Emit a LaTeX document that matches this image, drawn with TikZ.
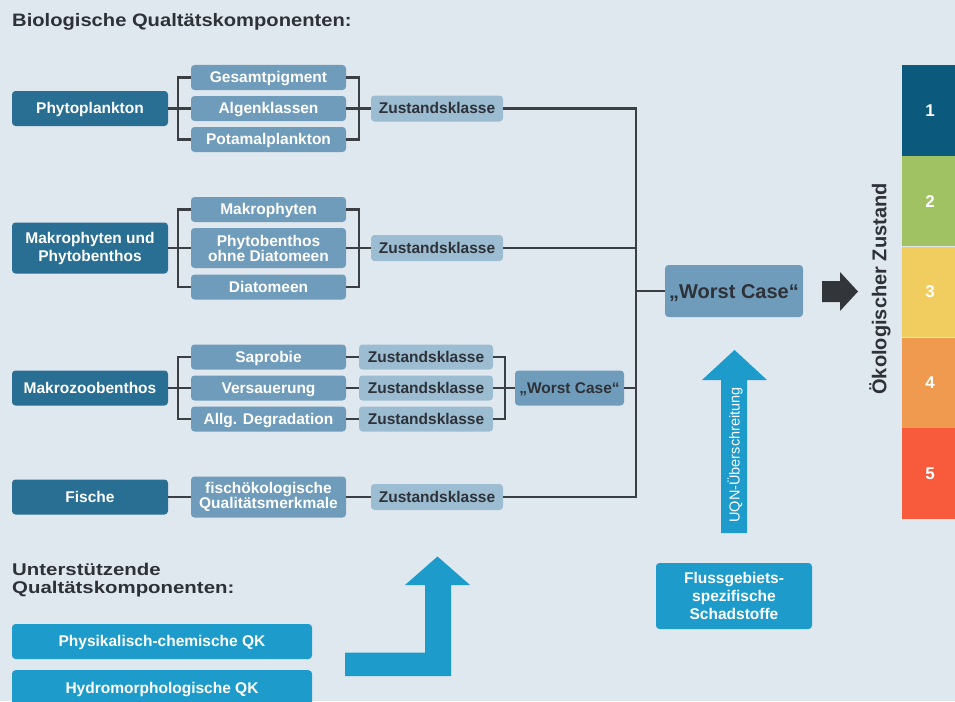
\documentclass[tikz,border=0pt]{standalone}
\usepackage{fontspec}
\setmainfont{Liberation Sans}
\newfontfamily\titleA{Liberation Sans}[FakeStretch=1.12]
\newfontfamily\titleB{Liberation Sans}[FakeStretch=1.2]
\definecolor{bg}{HTML}{E0E8EF}
\definecolor{dark}{HTML}{286F93}
\definecolor{med}{HTML}{6F9CBB}
\definecolor{light}{HTML}{9BBCD1}
\definecolor{cyanbox}{HTML}{1D9CCC}
\definecolor{linec}{HTML}{3B3F44}
\definecolor{txt}{HTML}{2E3238}
\definecolor{sA}{HTML}{0B5A7E}
\definecolor{sB}{HTML}{A0C262}
\definecolor{sC}{HTML}{F0CD5E}
\definecolor{sD}{HTML}{EF9A4F}
\definecolor{sE}{HTML}{F85A3C}
\begin{document}
\begin{tikzpicture}[x=1pt,y=-1pt,
  box/.style={rounded corners=3.5pt, inner sep=0pt, align=center, font=\fontsize{15.5}{15}\selectfont\bfseries},
  one/.style={text height=14.2pt, text depth=3.3pt},
  mainbox/.style={box, fill=dark, text=white, minimum width=156pt, minimum height=35pt, font=\fontsize{15.5}{18}\selectfont\bfseries},
  subbox/.style={box, fill=med, text=white, minimum width=155pt, minimum height=25pt},
  zkbox/.style={box, one, fill=light, text=txt, minimum width=132pt, minimum height=26pt},
  zksmall/.style={box, one, fill=light, text=txt, minimum width=134pt, minimum height=25pt},
  cbox/.style={box, fill=cyanbox, text=white, font=\fontsize{15.5}{18}\selectfont\bfseries},
  conn/.style={draw=linec, line width=2.1pt},
  scalecell/.style={inner sep=0pt, minimum width=53pt, minimum height=90.4pt, text=white, font=\fontsize{17}{17}\selectfont\bfseries}
]
\useasboundingbox (0,0) rectangle (955,701);
\fill[bg] (0,0) rectangle (955,701);

% titles
\node[anchor=base west, inner sep=0pt, text=txt, font=\titleA\fontsize{18}{18}\selectfont\bfseries] (t1) at (12,27) {Biologische Qualtätskomponenten:};
\node[anchor=north west, inner sep=0pt, text=txt, align=left, font=\titleB\fontsize{17}{18}\selectfont\bfseries] (t2) at (12,563) {Unterstützende\\Qualtätskomponenten:};

% group 1
\node[mainbox, one] (phyto) at (90,108.5) {Phytoplankton};
\node[subbox, one] (gesamt) at (268.5,77.5) {Gesamtpigment};
\node[subbox, one] (algen) at (268.5,108.5) {Algenklassen};
\node[subbox, one] (potamal) at (268.5,139.5) {Potamalplankton};
\node[zkbox] (zk1) at (437,108.5) {Zustandsklasse};

% group 2
\node[mainbox, minimum height=51pt] (makro) at (90,248) {Makrophyten und\\Phytobenthos};
\node[subbox, one] (mphyt) at (268.5,209.5) {Makrophyten};
\node[subbox, minimum height=40pt] (phytob) at (268.5,248) {Phytobenthos\\ohne Diatomeen};
\node[subbox, one] (diatom) at (268.5,287) {Diatomeen};
\node[zkbox] (zk2) at (437,248) {Zustandsklasse};

% group 3
\node[mainbox, one] (mzb) at (90,388) {Makrozoobenthos};
\node[subbox, one] (sapro) at (268.5,357) {Saprobie};
\node[subbox, one] (versau) at (268.5,388) {Versauerung};
\node[subbox, one] (degr) at (268.5,419) {Allg. Degradation};
\node[zksmall] (zka) at (426,357) {Zustandsklasse};
\node[zksmall] (zkb) at (426,388) {Zustandsklasse};
\node[zksmall] (zkc) at (426,419) {Zustandsklasse};
\node[box, one, fill=med, text=txt, minimum width=109pt, minimum height=35pt] (wcs) at (569.5,388) {„Worst Case“};

% group 4
\node[mainbox, one] (fische) at (90,497) {Fische};
\node[subbox, minimum height=41pt] (fqm) at (268.5,497) {fischökologische\\Qualitätsmerkmale};
\node[zkbox] (zk4) at (437,497) {Zustandsklasse};

% big worst case
\node[box, fill=med, text=txt, minimum width=138pt, minimum height=52pt, text height=18pt, text depth=4pt, font=\fontsize{20}{20}\selectfont\bfseries] (wc) at (734,291) {„Worst Case“};

% connectors group 1
\draw[conn] (phyto.east) -- (algen.west);
\draw[conn] (gesamt.west) -- ++(-13,0) |- (potamal.west);
\draw[conn] (gesamt.east) -- ++(13,0) |- (potamal.east);
\draw[conn] (algen.east) -- (zk1.west);
% group 2
\draw[conn] (makro.east) -- (phytob.west);
\draw[conn] (mphyt.west) -- ++(-13,0) |- (diatom.west);
\draw[conn] (mphyt.east) -- ++(13,0) |- (diatom.east);
\draw[conn] (phytob.east) -- (zk2.west);
% group 3
\draw[conn] (mzb.east) -- (versau.west);
\draw[conn] (sapro.west) -- ++(-13,0) |- (degr.west);
\draw[conn] (sapro.east) -- (zka.west);
\draw[conn] (versau.east) -- (zkb.west);
\draw[conn] (degr.east) -- (zkc.west);
\draw[conn] (zka.east) -- ++(12,0) |- (zkc.east);
\draw[conn] (zkb.east) -- (wcs.west);
% group 4
\draw[conn] (fische.east) -- (fqm.west);
\draw[conn] (fqm.east) -- (zk4.west);
% bus
\coordinate (bt) at (636,108.5);
\coordinate (bb) at (636,497);
\draw[conn] (zk1.east) -- (bt) -- (bb) -- (zk4.east);
\draw[conn] (zk2.east) -- (zk2.east -| bt);
\draw[conn] (wcs.east) -- (wcs.east -| bt);
\draw[conn] (wc.west) -- (wc.west -| bt);

% black arrow
\fill[linec!85!black] (822,281) -- (840,281) -- (840,272) -- (858,291.5) -- (840,311) -- (840,302) -- (822,302) -- cycle;

% vertical label
\node[rotate=90, inner sep=0pt, text=txt, font=\fontsize{20}{20}\selectfont\bfseries] (oz) at (880,289) {Ökologischer Zustand};

% scale
\node[scalecell, fill=sA, anchor=north west] (s1) at (902,65) {};
\node[scalecell, fill=sB, anchor=north west] (s2) at (s1.south west) {};
\node[scalecell, fill=sC, anchor=north west] (s3) at (s2.south west) {};
\node[scalecell, fill=sD, anchor=north west] (s4) at (s3.south west) {};
\node[scalecell, fill=sE, anchor=north west] (s5) at (s4.south west) {};
\foreach \i in {1,...,5} {
  \node[text=white, inner sep=0pt, font=\fontsize{17}{17}\selectfont\bfseries] (n\i) at (s\i.center -| 930,0) {\i};
}

% supporting components
\node[cbox, one, minimum width=300pt, minimum height=35pt] (pc) at (162,641.5) {Physikalisch-chemische QK};
\node[cbox, one, minimum width=300pt, minimum height=35pt, anchor=north] (hm) at (162,670) {Hydromorphologische QK};

% L-shaped arrow
\fill[cyanbox] (345,652.5) -- (425,652.5) -- (425,585) -- (405,585) -- (437.5,556.5) -- (470,585) -- (451,585) -- (451,676) -- (345,676) -- cycle;

% UQN arrow
\fill[cyanbox] (721,533) -- (721,380) -- (702,380) -- (734.5,350) -- (767,380) -- (747,380) -- (747,533) -- cycle;
\node[rotate=90, inner sep=0pt, text=white, font=\fontsize{14.5}{14.5}\selectfont] (uqn) at (735,455) {UQN-Überschreitung};

\node[cbox, minimum width=156pt, minimum height=66pt] (fss) at (734,596) {Flussgebiets-\\spezifische\\Schadstoffe};
\end{tikzpicture}
\end{document}
